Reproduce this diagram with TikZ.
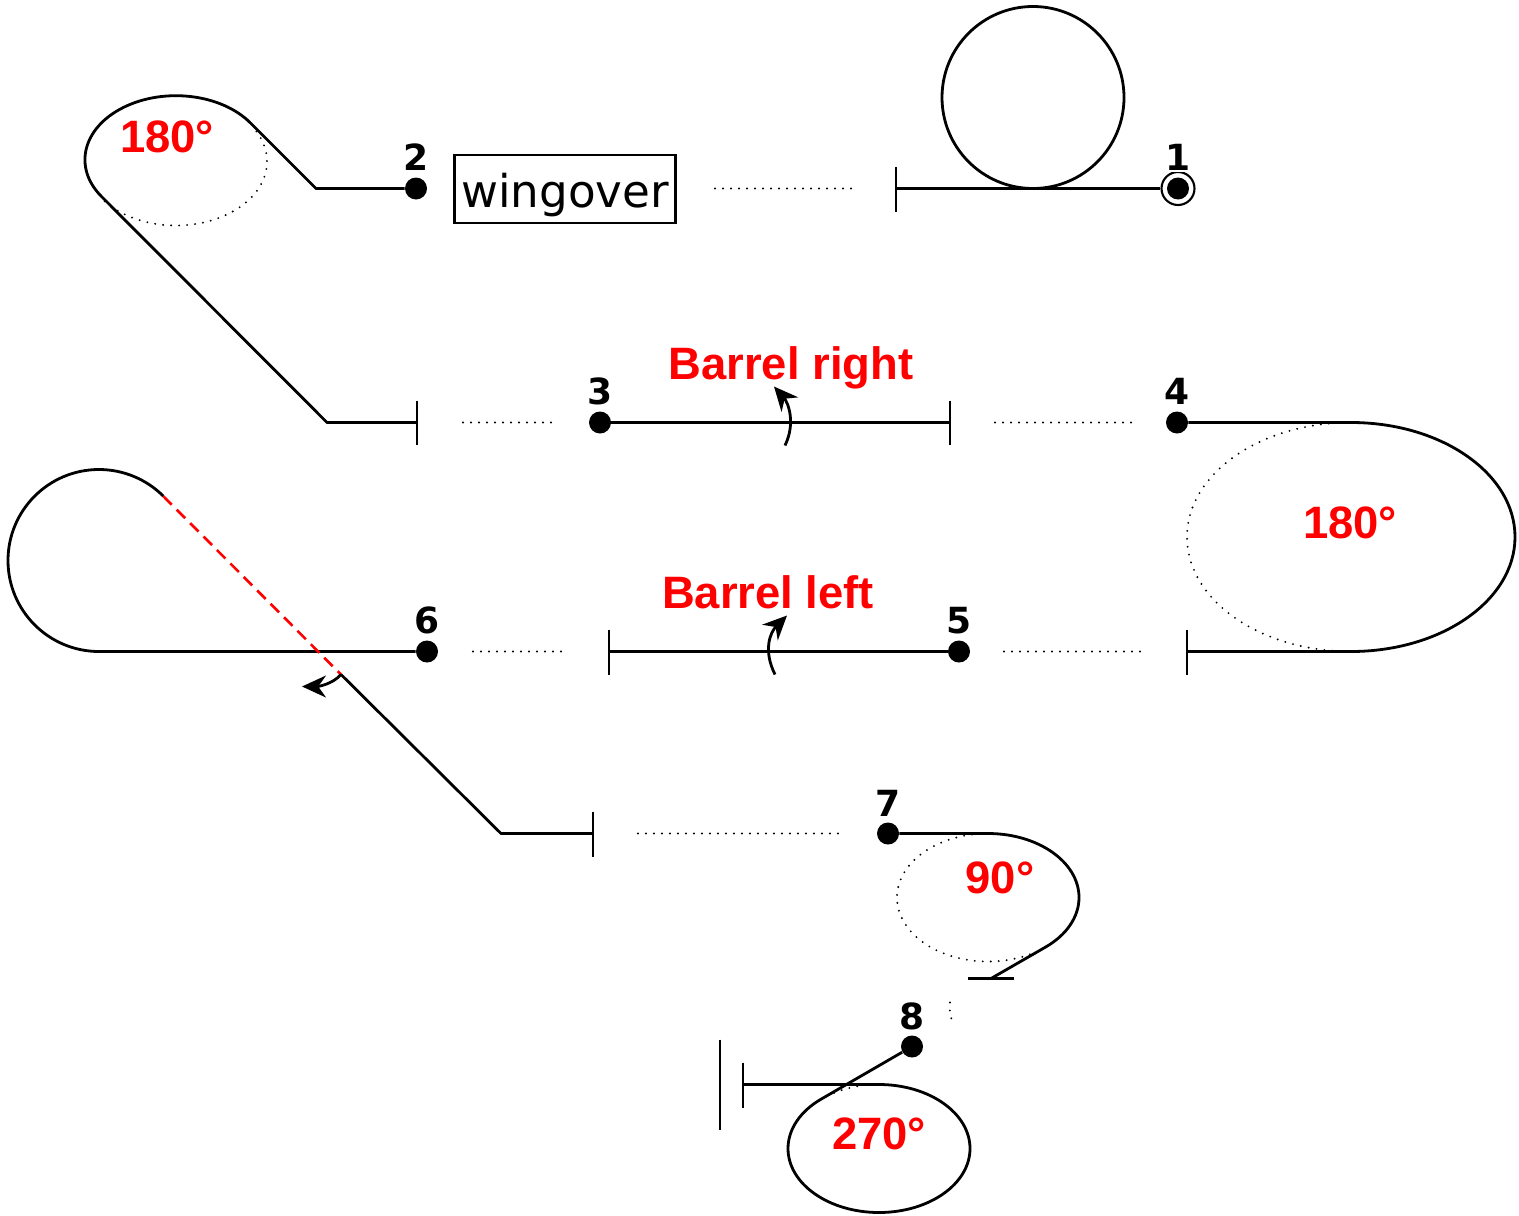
\documentclass[tikz,border=0pt]{standalone}
\usepackage{fontspec}
\setmainfont{Liberation Sans}
\newfontfamily\dejavu{DejaVu Sans}
\usetikzlibrary{arrows.meta}
\definecolor{lblred}{RGB}{255,0,0}
\tikzset{
  path/.style={line width=1.4pt,line join=round,draw=black},
  tickmark/.style={line width=1.4pt,draw=black},
  dotline/.style={line width=1.05pt,line cap=round,dash pattern=on 0pt off 4pt,draw=black},
  fig/.style={circle,fill=black,draw=none,minimum size=11pt,inner sep=0pt},
  num/.style={font=\dejavu\bfseries\fontsize{18}{21}\selectfont,inner sep=0pt,text=black},
  redlab/.style={font=\bfseries\fontsize{22.7}{26}\selectfont,inner sep=0pt,text=lblred},
  roll/.style={line width=1.4pt,-{Stealth[length=12pt,width=11pt]}},
}
\begin{document}
\begin{tikzpicture}[x=0.5pt,y=-0.5pt]
\useasboundingbox (0,-0.5) rectangle (1519,1214.5);

% position dots
\node[fig] (n1) at (1178,188) {};
\node[fig] (n2) at (416,188) {};
\node[fig] (n3) at (600,422) {};
\node[fig] (n4) at (1177,422) {};
\node[fig] (n5) at (959,651) {};
\node[fig] (n6) at (427,651) {};
\node[fig] (n7) at (888,833) {};
\node[fig] (n8) at (912,1046) {};
\node[circle,draw=black,line width=1.05pt,minimum size=16.5pt,inner sep=0pt] (ring) at (n1) {};

% row 1
\coordinate (t0) at (896,188);
\draw[tickmark] (896,166) -- (896,211);
\draw[path] (t0) -- (ring.west);
\draw[path] (1033,97) circle[radius=45.5pt];
\draw[dotline] (715,188) -- (852,188);
\node[draw=black,line width=1.1pt,minimum width=110.5pt,minimum height=34pt,inner sep=0pt,font=\dejavu\fontsize{22.6}{26}\selectfont] (wo) at (565,188.5) {\raisebox{-9.2pt}[0pt][0pt]{wingover}};

% 180 loop upper left
\coordinate (a1) at (316,188);
\coordinate (a2) at (327,422);
\coordinate (t1) at (417,422);
\draw[path] (n2) -- (a1) -- (250.4,122.4) arc[start angle=35.1,end angle=215.1,x radius=45.5pt,y radius=32pt] -- (a2) -- (t1);
\draw[tickmark] (417,400) -- (417,444);
\draw[dotline] (176,161) ++(28:45.5pt and 32pt) arc[start angle=28,end angle=-145,x radius=45.5pt,y radius=32pt];

% row 2
\draw[dotline] (463,422) -- (555,422);
\coordinate (t2) at (950,422);
\draw[path] (n3) -- (t2);
\draw[tickmark] (950,400) -- (950,444);
\draw[dotline] (995,422) -- (1133,422);
\coordinate (b1) at (1351,422);
\coordinate (t3) at (1187,651);
\draw[path] (n4) -- (b1) arc[start angle=90,end angle=-90,x radius=82pt,y radius=57.25pt] -- (t3);
\draw[tickmark] (1187,629) -- (1187,674);
\draw[dotline] (1351,536.5) ++(95:82pt and 57.25pt) arc[start angle=95,end angle=265,x radius=82pt,y radius=57.25pt];

% row 3
\draw[dotline] (1004,651) -- (1141,651);
\coordinate (t4) at (609,651);
\draw[path] (n5) -- (t4);
\draw[tickmark] (609,629) -- (609,674);
\draw[dotline] (473,651) -- (565,651);
\coordinate (c1) at (99,651);
\coordinate (c2) at (163.3,495.7);
\coordinate (c3) at (341,674);
\coordinate (c4) at (501,833);
\coordinate (t5) at (593,833);
\draw[path] (n6) -- (c1) arc[start angle=270,end angle=45,radius=45.5pt];
\draw[lblred,line width=1.3pt,dash pattern=on 6pt off 3.5pt] (c2) -- (c3);
\draw[path] (c3) -- (c4) -- (t5);
\draw[tickmark] (593,811) -- (593,856);
\draw[dotline] (638,833) -- (840,833);

% 90 loop
\coordinate (d1) at (988,833);
\coordinate (t6) at (991,978);
\draw[path] (n7) -- (d1) arc[start angle=90,end angle=-50.6,x radius=45.5pt,y radius=32pt] -- (t6);
\draw[tickmark] (968,978) -- (1014,978);
\draw[dotline] (988,897) ++(85:45.5pt and 32pt) arc[start angle=85,end angle=300,x radius=45.5pt,y radius=32pt];
\draw[dotline] (950,1002) .. controls (948,1009) and (952,1016) .. (952,1024);

% 270 loop
\coordinate (e1) at (879,1084);
\coordinate (e2) at (821.2,1098.5);
\coordinate (t7) at (743,1084);
\draw[path] (t7) -- (e1) arc[start angle=90,end angle=-230.6,x radius=45.5pt,y radius=32pt] -- (n8);
\draw[tickmark] (743,1062) -- (743,1107);
\draw[tickmark] (720,1039) -- (720,1129);
\draw[dotline] (879,1148) ++(125:45.5pt and 32pt) arc[start angle=125,end angle=102,x radius=45.5pt,y radius=32pt];

% roll arrows
\coordinate (r1a) at (785,445);
\coordinate (r1b) at (774,386);
\draw[roll] (r1a) .. controls (796,422) and (788,402) .. (r1b);
\coordinate (r2a) at (775,674);
\coordinate (r2b) at (787,615);
\draw[roll] (r2a) .. controls (763,650) and (770,632) .. (r2b);
\draw[roll] (c3) .. controls (332,684) and (318,686) .. (302,686);

% labels
\node[num,fill=white,inner xsep=1pt,inner ysep=0.5pt] (l1) at (1178,157) {1};
\node[num] (l2) at (416,157) {2};
\node[num] (l3) at (600,391) {3};
\node[num] (l4) at (1177,391) {4};
\node[num] (l5) at (959,620) {5};
\node[num] (l6) at (427,620) {6};
\node[num] (l7) at (888,803) {7};
\node[num] (l8) at (912,1016) {8};
\node[redlab] (ang1) at (167,136) {180°};
\node[redlab] (ang2) at (1350,522) {180°};
\node[redlab] (ang3) at (1000,877) {90°};
\node[redlab] (ang4) at (879,1133) {270°};
\node[redlab] (br) at (791,367) {Barrel right};
\node[redlab] (bl) at (768,592) {Barrel left};
\end{tikzpicture}
\end{document}
